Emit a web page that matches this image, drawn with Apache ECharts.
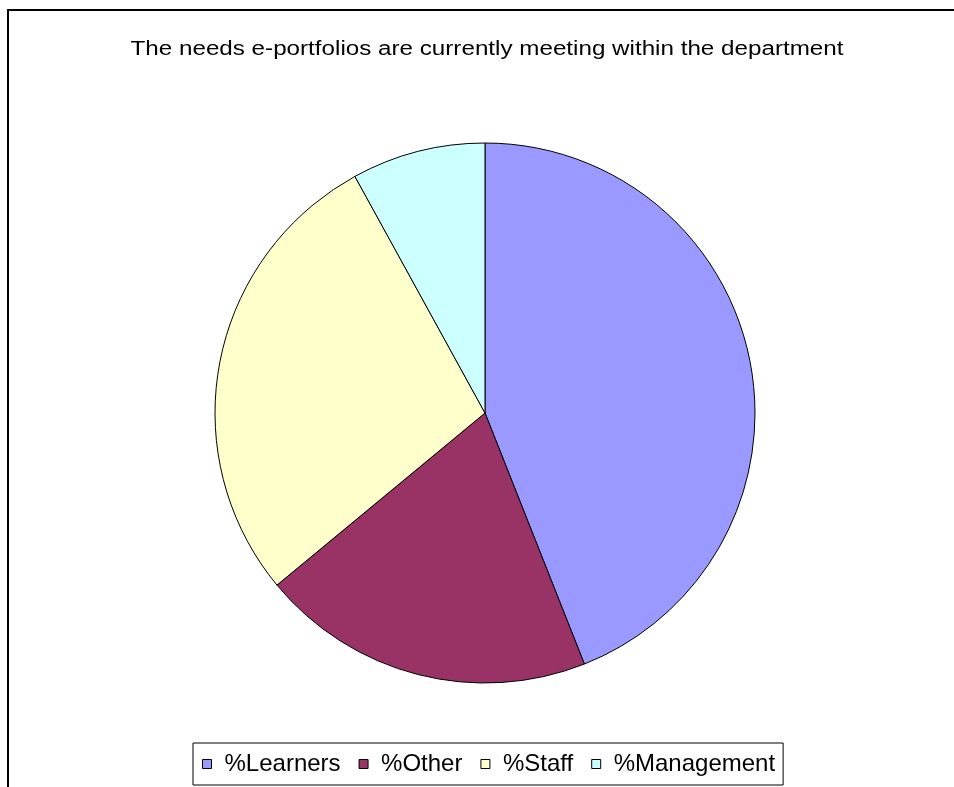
<!DOCTYPE html>
<html>
<head>
<meta charset="utf-8">
<title>e-portfolios needs</title>
<script src="https://cdn.jsdelivr.net/npm/echarts@6/dist/echarts.min.js"></script>
<style>
  html, body { margin: 0; padding: 0; background: #fff; }
  #chart { width: 954px; height: 787px; }
</style>
</head>
<body>
<div id="chart"></div>
<script>
// categories and shares (in %)
const groupNames = ['%Learners', '%Other', '%Staff', '%Management'];
const groupShares = [44, 20, 28, 8];
const groupColors = ['#9999FF', '#993366', '#FFFFCC', '#CCFFFF'];

const chartTitle = 'The needs e-portfolios are currently meeting within the department';

const FONT = 'Liberation Sans, Arial, sans-serif';

const chart = echarts.init(document.getElementById('chart'));

const option = {
  animation: false,
  backgroundColor: '#fff',
  textStyle: { fontFamily: FONT },
  graphic: [
    // cadre du graphique (bords droit et bas hors de l'image)
    {
      type: 'rect',
      shape: { x: 8, y: 10, width: 1000, height: 1000 },
      style: { fill: 'none', stroke: '#000', lineWidth: 2 },
      silent: true
    },
    // titre, un peu étiré en largeur comme dans l'original
    {
      type: 'text',
      x: 487,
      y: 49,
      scaleX: 1.21,
      silent: true,
      style: {
        text: chartTitle,
        fontSize: 20,
        fontFamily: FONT,
        fill: '#000',
        textAlign: 'center',
        textVerticalAlign: 'middle'
      }
    }
  ],
  legend: {
    left: 193,
    top: 743,
    orient: 'horizontal',
    icon: 'rect',
    itemWidth: 9,
    itemHeight: 9,
    itemGap: 18,
    padding: [9, 8, 9, 9],
    borderColor: '#000',
    borderWidth: 1,
    itemStyle: { borderColor: '#000', borderWidth: 1 },
    textStyle: {
      fontSize: 24,
      color: '#000',
      padding: [0, 0, 0, 8],
      fontFamily: FONT
    },
    data: groupNames
  },
  series: [
    {
      type: 'pie',
      center: [485, 413],
      radius: 270,
      startAngle: 90,
      clockwise: true,
      label: { show: false },
      labelLine: { show: false },
      emphasis: { disabled: true },
      itemStyle: { borderColor: '#000', borderWidth: 1 },
      data: groupNames.map((name, i) => ({
        name: name,
        value: groupShares[i],
        itemStyle: { color: groupColors[i] }
      }))
    }
  ]
};

chart.setOption(option);
</script>
</body>
</html>
